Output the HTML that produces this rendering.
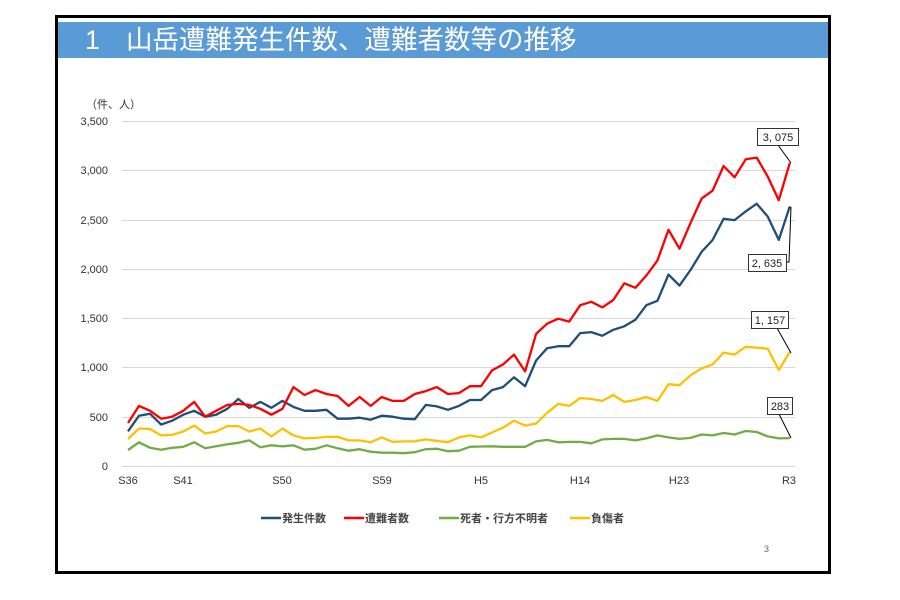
<!DOCTYPE html>
<html><head><meta charset="utf-8"><style>
body{margin:0;background:#fff;width:900px;height:600px;overflow:hidden;font-family:"Liberation Sans","Noto Sans CJK JP",sans-serif;}
#frame{position:absolute;left:55px;top:15px;width:770px;height:553px;border:3px solid #000;}
#title{position:absolute;left:58px;top:22px;width:770px;height:36px;background:#5b9bd5;color:#fff;font-size:26.5px;line-height:36px;}
svg{position:absolute;left:0;top:0}
</style></head><body>
<div id="frame"></div>
<div id="title"><span style="position:absolute;left:27px;">1</span><span style="position:absolute;left:68px;">山岳遭難発生件数、遭難者数等の推移</span></div>
<svg width="900" height="600" xmlns="http://www.w3.org/2000/svg" font-family="Liberation Sans, Noto Sans CJK JP, sans-serif">
<g stroke="#d9d9d9" stroke-width="1">
<line x1="122" x2="795" y1="121.5" y2="121.5"/><line x1="122" x2="795" y1="170.5" y2="170.5"/>
<line x1="122" x2="795" y1="220.5" y2="220.5"/><line x1="122" x2="795" y1="269.5" y2="269.5"/>
<line x1="122" x2="795" y1="318.5" y2="318.5"/><line x1="122" x2="795" y1="367.5" y2="367.5"/>
<line x1="122" x2="795" y1="417.5" y2="417.5"/><line x1="122" x2="795" y1="466.5" y2="466.5"/>
</g>
<g font-size="11" fill="#333" text-anchor="end">
<text x="108" y="125">3,500</text><text x="108" y="174">3,000</text><text x="108" y="224">2,500</text>
<text x="108" y="273">2,000</text><text x="108" y="322">1,500</text><text x="108" y="371">1,000</text>
<text x="108" y="421">500</text><text x="108" y="470">0</text>
</g>
<text x="86" y="108" font-size="11" fill="#333">（件、人）</text>
<g font-size="11" fill="#333" text-anchor="middle">
<text x="128" y="484">S36</text><text x="183" y="484">S41</text><text x="282" y="484">S50</text>
<text x="382" y="484">S59</text><text x="481" y="484">H5</text><text x="580" y="484">H14</text>
<text x="679" y="484">H23</text><text x="789" y="484">R3</text>
</g>
<g id="lines" fill="none" stroke-width="2.3" stroke-linejoin="round"></g>
<g stroke="#000" stroke-width="1" fill="none">
<line x1="778" y1="145" x2="791" y2="163"/>
<polyline points="786,262 789,262 791,207"/>
<line x1="777" y1="328" x2="791" y2="353"/>
<line x1="779" y1="414" x2="791" y2="438"/>
</g>
<g fill="#fff" stroke="#333" stroke-width="1">
<rect x="757.5" y="128.5" width="41" height="17"/>
<rect x="748.5" y="254.5" width="38" height="17"/>
<rect x="751.5" y="311.5" width="37" height="17"/>
<rect x="767.5" y="397.5" width="25" height="17"/>
</g>
<g font-size="11" fill="#222" text-anchor="middle">
<text x="778" y="141">3, 075</text><text x="767" y="267">2, 635</text>
<text x="770" y="324">1, 157</text><text x="780" y="410">283</text>
</g>
<g stroke-width="2.5">
<line x1="261" x2="281" y1="518" y2="518" stroke="#1f4e79"/>
<line x1="344" x2="364" y1="518" y2="518" stroke="#ff0000"/>
<line x1="439" x2="459" y1="518" y2="518" stroke="#70ad47"/>
<line x1="570" x2="590" y1="518" y2="518" stroke="#ffc000"/>
</g>
<g font-size="11" fill="#444" font-weight="bold">
<text x="282" y="522">発生件数</text><text x="365" y="522">遭難者数</text>
<text x="460" y="522">死者・行方不明者</text><text x="591" y="522">負傷者</text>
</g>
<text x="764" y="552" font-size="9" fill="#666">3</text>
</svg>
<script>
var blue=[352,510,530,420,460,520,560,500,520,580,680,590,650,590,660,600,560,560,570,480,480,490,470,510,500,480,475,620,605,570,610,670,670,770,800,900,810,1070,1195,1215,1215,1348,1358,1321,1382,1417,1484,1631,1676,1942,1830,1988,2172,2293,2508,2495,2583,2661,2531,2294,2635];
var red=[436,610,560,480,500,560,650,500,560,620,630,620,580,520,580,800,720,770,730,710,610,700,610,700,660,660,730,760,800,730,740,810,810,970,1030,1130,960,1340,1444,1494,1465,1631,1666,1609,1684,1853,1808,1933,2085,2396,2204,2465,2713,2794,3043,2929,3111,3129,2937,2697,3075];
var yel=[274,380,375,310,315,350,410,330,350,405,405,350,380,300,380,310,280,285,295,295,260,260,240,290,245,250,250,270,255,240,290,310,290,340,390,460,410,430,540,630,610,690,680,660,720,650,670,700,660,830,820,920,990,1030,1150,1130,1210,1200,1190,975,1157];
var grn=[162,240,185,165,185,195,240,180,200,220,235,260,190,210,200,210,165,175,210,180,155,170,145,135,135,130,140,170,175,150,155,195,198,200,195,195,195,250,265,240,245,245,230,270,275,275,260,280,310,290,275,285,320,310,335,320,355,345,300,280,283];
function pts(a){return a.map(function(v,i){return (128+i*11.03).toFixed(1)+","+(466-v*345/3500).toFixed(1)}).join(" ")}
var g=document.getElementById("lines"),ns="http://www.w3.org/2000/svg";
[[grn,"#70ad47"],[yel,"#ffc000"],[blue,"#1f4e79"],[red,"#ff0000"]].forEach(function(s){var p=document.createElementNS(ns,"polyline");p.setAttribute("points",pts(s[0]));p.setAttribute("stroke",s[1]);g.appendChild(p);});
</script>
</body></html>
